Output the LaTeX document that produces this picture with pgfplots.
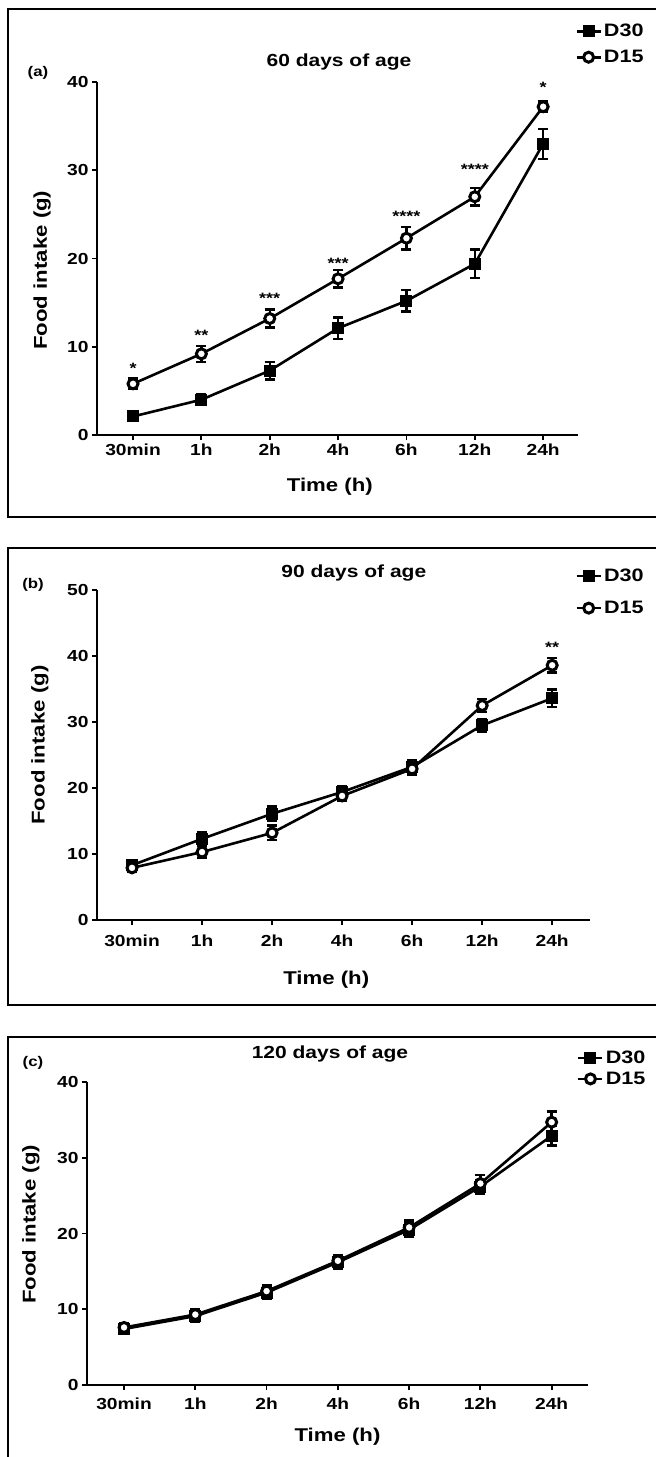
\documentclass[border=0pt]{standalone}
\usepackage{fontspec}
\setmainfont{Liberation Sans}[FakeStretch=1.2]
\usepackage{pgfplots}
\pgfplotsset{compat=1.18}

\pgfplotsset{
  foodaxis/.style={
    scale only axis,
    axis x line*=bottom, axis y line*=left,
    axis line style={-, line width=2.2pt},
    tick align=outside,
    tick style={line width=1.8pt, black},
    major tick length=5pt,
    xtick={0,...,6},
    xticklabels={30min,1h,2h,4h,6h,12h,24h},
    ymin=0,
    ticklabel style={font=\fontsize{16}{18}\selectfont\bfseries},
    /pgf/number format/assume math mode=true,
    clip=false,
    legend style={draw=none, fill=none, font=\fontsize{18}{20}\selectfont\bfseries,
      anchor=north west, inner sep=0pt, cells={anchor=west}},
    legend image code/.code={\draw[mark repeat=2,mark phase=2,#1] plot coordinates {(0pt,0pt) (12pt,0pt) (24pt,0pt)};},
    title style={font=\fontsize{17.5}{20}\selectfont\bfseries, anchor=center},
    label style={font=\fontsize{18.5}{21}\selectfont\bfseries, anchor=center},
  },
  d30/.style={black, line width=2.6pt, mark=square*, mark size=5.5pt,
    mark options={solid, line width=1pt},
    error bars/.cd, y dir=both, y explicit,
    error bar style={line width=2.4pt},
    error mark options={rotate=90, mark size=5pt, line width=2.4pt}},
  d15/.style={black, line width=2.6pt, mark=*, mark size=5pt,
    mark options={solid, fill=white, line width=3pt},
    error bars/.cd, y dir=both, y explicit,
    error bar style={line width=2.4pt},
    error mark options={rotate=90, mark size=5pt, line width=2.4pt}},
  stars/.style={forget plot, draw=none, mark=none, nodes near coords,
    point meta=explicit symbolic,
    nodes near coords style={anchor=center, yshift=-3pt, font=\fontsize{15}{15}\selectfont\bfseries}},
}

% panel (a): 60 days
\pgfplotstableread{
x y e
0 2.1 0.4
1 4.0 0.6
2 7.3 1.0
3 12.1 1.2
4 15.2 1.2
5 19.4 1.6
6 33.0 1.7
}\aDthirty
\pgfplotstableread{
x y e
0 5.8 0.6
1 9.2 0.9
2 13.2 1.0
3 17.7 1.0
4 22.3 1.3
5 27.0 1.0
6 37.2 0.6
}\aDfifteen
\pgfplotstableread{
x y s
0 7.9 *
1 11.6 **
2 15.8 ***
3 19.8 ***
4 25.1 ****
5 30.4 ****
6 39.7 *
}\aStars

% panel (b): 90 days
\pgfplotstableread{
x y e
0 8.3 0.6
1 12.3 1.0
2 16.1 1.1
3 19.4 0.8
4 23.2 1.0
5 29.5 1.0
6 33.6 1.3
}\bDthirty
\pgfplotstableread{
x y e
0 7.9 0.6
1 10.3 0.9
2 13.2 1.1
3 18.8 0.8
4 22.9 0.9
5 32.5 1.0
6 38.6 1.1
}\bDfifteen
\pgfplotstableread{
x y s
6 41.8 **
}\bStars

% panel (c): 120 days
\pgfplotstableread{
x y e
0 7.4 0.6
1 9.1 0.7
2 12.2 0.8
3 16.2 0.8
4 20.5 0.9
5 26.2 0.9
6 32.9 1.3
}\cDthirty
\pgfplotstableread{
x y e
0 7.6 0.6
1 9.3 0.7
2 12.4 0.8
3 16.4 0.8
4 20.8 0.9
5 26.6 1.1
6 34.7 1.4
}\cDfifteen

\begin{document}
\begin{tikzpicture}
\useasboundingbox (0pt,0pt) rectangle (656pt,-1457pt);

% panel frames
\draw[line width=2pt] (656pt,-9pt) -- (8pt,-9pt) -- (8pt,-517pt) -- (656pt,-517pt);
\draw[line width=2pt] (656pt,-548pt) -- (8pt,-548pt) -- (8pt,-1005pt) -- (656pt,-1005pt);
\draw[line width=2pt] (8pt,-1457pt) -- (8pt,-1037pt) -- (656pt,-1037pt);

\node[font=\fontsize{14}{16}\selectfont\bfseries] at (38pt,-73pt) {(a)};
\node[font=\fontsize{14}{16}\selectfont\bfseries] at (33pt,-585pt) {(b)};
\node[font=\fontsize{14}{16}\selectfont\bfseries] at (33pt,-1063pt) {(c)};

\begin{axis}[foodaxis,
  at={(97pt,-435pt)}, anchor=south west,
  width=481pt, height=353pt,
  xmin=-0.527, xmax=6.51, ymax=40, ytick={0,10,...,40},
  title={60 days of age},
  title style={at={(axis description cs:0.503,1.04)}},
  xlabel={Time (h)}, ylabel={Food intake (g)},
  xlabel style={at={(axis description cs:0.484,-0.147)}},
  ylabel style={at={(axis description cs:-0.114,0.467)}},
  legend style={at={(axis description cs:0.994,1.17)}, row sep=8pt},
]
\addplot[d30] table[x=x, y=y, y error=e] {\aDthirty};
\addplot[d15] table[x=x, y=y, y error=e] {\aDfifteen};
\addplot[stars] table[x=x, y=y, meta=s] {\aStars};
\legend{D30,D15}
\end{axis}

\begin{axis}[foodaxis,
  at={(97pt,-920pt)}, anchor=south west,
  width=493pt, height=330pt,
  xmin=-0.5, xmax=6.54, ymax=50, ytick={0,10,...,50},
  xticklabel style={yshift=-6pt},
  title={90 days of age},
  title style={at={(axis description cs:0.521,1.033)}},
  xlabel={Time (h)}, ylabel={Food intake (g)},
  xlabel style={at={(axis description cs:0.465,-0.182)}},
  ylabel style={at={(axis description cs:-0.116,0.53)}},
  legend style={at={(axis description cs:0.970,1.07)}, row sep=14pt},
]
\addplot[d30] table[x=x, y=y, y error=e] {\bDthirty};
\addplot[d15] table[x=x, y=y, y error=e] {\bDfifteen};
\addplot[stars] table[x=x, y=y, meta=s] {\bStars};
\legend{D30,D15}
\end{axis}

\begin{axis}[foodaxis,
  at={(87pt,-1385pt)}, anchor=south west,
  width=501pt, height=303pt,
  xmin=-0.52, xmax=6.51, ymax=40, ytick={0,10,...,40},
  xticklabel style={yshift=-4pt},
  title={120 days of age},
  title style={at={(axis description cs:0.485,1.073)}},
  xlabel={Time (h)}, ylabel={Food intake (g)},
  xlabel style={at={(axis description cs:0.50,-0.172)}},
  ylabel style={at={(axis description cs:-0.112,0.53)}},
  legend style={at={(axis description cs:0.978,1.11)}, row sep=3pt},
]
\addplot[d30] table[x=x, y=y, y error=e] {\cDthirty};
\addplot[d15] table[x=x, y=y, y error=e] {\cDfifteen};
\legend{D30,D15}
\end{axis}
\end{tikzpicture}
\end{document}
